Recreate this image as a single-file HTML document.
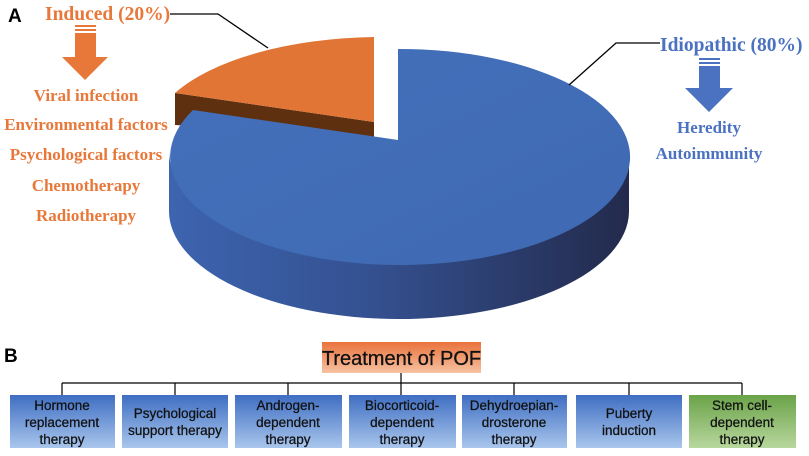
<!DOCTYPE html>
<html><head><meta charset="utf-8"><style>
html,body{margin:0;padding:0;background:#fff;}
svg{display:block;}
.o{font-family:"Liberation Serif",serif;font-weight:bold;fill:#e8783a;font-size:17px;}
.b{font-family:"Liberation Serif",serif;font-weight:bold;fill:#4a72c0;font-size:17px;}
.t{font-family:"Liberation Sans",sans-serif;font-size:13.5px;fill:#111;text-anchor:middle;}
</style></head><body>
<svg width="809" height="456" viewBox="0 0 809 456">
<defs>
<linearGradient id="side" x1="0" x2="1" y1="0" y2="0">
<stop offset="0" stop-color="#3d64b0"/><stop offset="0.45" stop-color="#34508f"/><stop offset="1" stop-color="#232a4c"/></linearGradient>
<linearGradient id="top" x1="0" x2="1" y1="0" y2="1">
<stop offset="0" stop-color="#4470bb"/><stop offset="1" stop-color="#3f69b2"/></linearGradient>
<linearGradient id="bx" x1="0" x2="0" y1="0" y2="1">
<stop offset="0" stop-color="#3f6ec2"/><stop offset="1" stop-color="#a9c6ec"/></linearGradient>
<linearGradient id="gx" x1="0" x2="0" y1="0" y2="1">
<stop offset="0" stop-color="#6aa348"/><stop offset="1" stop-color="#b8d79e"/></linearGradient>
<linearGradient id="tx" x1="0" x2="0" y1="0" y2="1">
<stop offset="0" stop-color="#e9733d"/><stop offset="1" stop-color="#f7c2a2"/></linearGradient>
</defs>
<text x="8" y="22" font-family="Liberation Sans,sans-serif" font-weight="bold" font-size="19">A</text>
<text x="4" y="362" font-family="Liberation Sans,sans-serif" font-weight="bold" font-size="19">B</text>

<!-- orange wedge -->
<path d="M175,93 L374,122 L374,137 L175,125 Z" fill="#5e300f"/>
<path d="M374,37 A230,100 0 0 0 175,93 L374,122 Z" fill="#e07535"/>

<!-- blue side -->
<path d="M169,150 A230,108 0 0 0 629,152 L629,212 A230,108 0 0 1 169,210 Z" fill="url(#side)"/>
<!-- blue top -->
<path d="M398,49 A230,108 0 1 1 193,110 L398,140 Z" fill="url(#top)"/>

<!-- leaders -->
<polyline points="170,14 218,14 268,48" fill="none" stroke="#000" stroke-width="1.3"/>
<polyline points="660,43 616,43 569,85" fill="none" stroke="#000" stroke-width="1.3"/>

<text class="o" x="45" y="20" font-size="19.5" style="font-size:19.5px">Induced (20%)</text>
<text class="b" x="660" y="51" style="font-size:19.5px">Idiopathic (80%)</text>

<!-- orange arrow -->
<rect x="75" y="25" width="21" height="2" fill="#e8783a"/>
<rect x="75" y="29" width="21" height="2" fill="#e8783a"/>
<rect x="75" y="33" width="21" height="24" fill="#e8783a"/>
<polygon points="62,57 108,57 85,80" fill="#e8783a"/>
<!-- blue arrow -->
<rect x="699" y="58" width="21" height="2" fill="#4a72c0"/>
<rect x="699" y="62" width="21" height="2" fill="#4a72c0"/>
<rect x="699" y="66" width="21" height="24" fill="#4a72c0"/>
<polygon points="685,88 733,88 709,112" fill="#4a72c0"/>

<g text-anchor="middle">
<text class="o" x="86" y="101">Viral infection</text>
<text class="o" x="86" y="130">Environmental factors</text>
<text class="o" x="86" y="160">Psychological factors</text>
<text class="o" x="86" y="191">Chemotherapy</text>
<text class="o" x="86" y="221">Radiotherapy</text>
<text class="b" x="709" y="133">Heredity</text>
<text class="b" x="709" y="159">Autoimmunity</text>
</g>

<!-- B -->
<rect x="322" y="342" width="159" height="31" fill="url(#tx)"/>
<text x="401.5" y="365" text-anchor="middle" font-family="Liberation Sans,sans-serif" font-size="20" fill="#111" stroke="#111" stroke-width="0.3">Treatment of POF</text>
<g stroke="#000" stroke-width="1.2" fill="none">
<line x1="401" y1="373" x2="401" y2="395"/>
<line x1="62" y1="383" x2="742" y2="383"/>
<line x1="62" y1="383" x2="62" y2="395"/>
<line x1="175" y1="383" x2="175" y2="395"/>
<line x1="288" y1="383" x2="288" y2="395"/>
<line x1="514" y1="383" x2="514" y2="395"/>
<line x1="629" y1="383" x2="629" y2="395"/>
<line x1="742" y1="383" x2="742" y2="395"/>
</g>
<g>
<rect x="10" y="395" width="105" height="53" fill="url(#bx)"/>
<rect x="122" y="395" width="106" height="53" fill="url(#bx)"/>
<rect x="235" y="395" width="107" height="53" fill="url(#bx)"/>
<rect x="349" y="395" width="107" height="53" fill="url(#bx)"/>
<rect x="462" y="395" width="105" height="53" fill="url(#bx)"/>
<rect x="576" y="395" width="106" height="53" fill="url(#bx)"/>
<rect x="689" y="395" width="107" height="53" fill="url(#gx)"/>
</g>
<g stroke="#111" stroke-width="0.25">
<text class="t" x="62" y="410">Hormone</text><text class="t" x="62" y="427">replacement</text><text class="t" x="62" y="444">therapy</text>
<text class="t" x="175" y="418">Psychological</text><text class="t" x="175" y="435">support therapy</text>
<text class="t" x="288" y="410">Androgen-</text><text class="t" x="288" y="427">dependent</text><text class="t" x="288" y="444">therapy</text>
<text class="t" x="402" y="410">Biocorticoid-</text><text class="t" x="402" y="427">dependent</text><text class="t" x="402" y="444">therapy</text>
<text class="t" x="514" y="410">Dehydroepian-</text><text class="t" x="514" y="427">drosterone</text><text class="t" x="514" y="444">therapy</text>
<text class="t" x="629" y="418">Puberty</text><text class="t" x="629" y="435">induction</text>
<text class="t" x="742" y="410">Stem cell-</text><text class="t" x="742" y="427">dependent</text><text class="t" x="742" y="444">therapy</text>
</g>
</svg>
</body></html>
